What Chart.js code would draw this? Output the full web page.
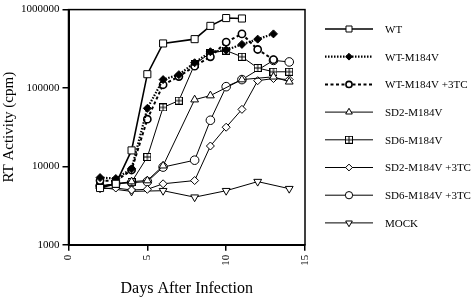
<!DOCTYPE html>
<html>
<head>
<meta charset="utf-8">
<script src="https://cdn.jsdelivr.net/npm/chart.js@4"></script>
<style>
  html, body { margin: 0; padding: 0; background: #fff; }
  #wrap { width: 476px; height: 300px; }
</style>
</head>
<body>
<div id="wrap"><canvas id="c" width="476" height="300"></canvas></div>
<script>
// days after infection
var days = [2, 3, 4, 5, 6, 7, 8, 9, 10, 11, 12, 13, 14];

// RT activity (cpm), null = no sample that day
var wt        = [5300, 6000, 16000, 150000, 370000, null, 420000, 620000, 780000, 770000, null, null, null];
var wtM184V   = [7200, 7000, 9300, 55000, 128000, 148000, 210000, 290000, 305000, 360000, 420000, 490000, null];
var wtM184V3  = [6600, 6500, 9000, 40000, 110000, 140000, 190000, 250000, 385000, 490000, 310000, 230000, null];
var sd2M184V  = [5600, 6000, 6400, 6600, 10200, null, 71000, 80000, null, 128000, null, 139000, 120000];
var sd6M184V  = [5600, 6000, 6300, 13200, 56600, 69000, 200000, 280000, 300000, 250000, 180000, 161000, 161000];
var sd2M184V3 = [5200, 5300, 5000, 5100, 6000, null, 6600, 18200, 31600, 53400, 124000, 132000, 128000];
var sd6M184V3 = [5600, 6000, 6200, 6400, 9800, null, 12000, 38800, 104000, 128000, null, 225000, 215000];
var mock      = [5400, null, 4800, null, 4900, null, 4050, null, 4900, null, 6400, null, 5200];

var seriesLabels = ['WT', 'WT-M184V', 'WT-M184V +3TC', 'SD2-M184V', 'SD6-M184V',
                    'SD2-M184V +3TC', 'SD6-M184V +3TC', 'MOCK'];

var yTicks = [1000, 10000, 100000, 1000000];
var xTicks = [0, 5, 10, 15];

// small square with a cross inside
function boxPlus(size) {
  var c = document.createElement('canvas');
  c.width = size; c.height = size;
  var g = c.getContext('2d');
  g.fillStyle = '#fff';
  g.fillRect(0.5, 0.5, size - 1, size - 1);
  g.strokeStyle = '#000';
  g.lineWidth = 1;
  g.strokeRect(0.5, 0.5, size - 1, size - 1);
  g.beginPath();
  g.moveTo(size / 2, 0.5); g.lineTo(size / 2, size - 0.5);
  g.moveTo(0.5, size / 2); g.lineTo(size - 0.5, size / 2);
  g.stroke();
  return c;
}

function pts(vals) {
  return days.map(function (d, i) { return { x: d, y: vals[i] }; });
}

function series(label, vals, style, o) {
  return Object.assign({
    label: label,
    data: pts(vals),
    borderColor: '#000',
    borderWidth: 1,
    pointStyle: style,
    pointRadius: 4,
    pointBackgroundColor: '#fff',
    pointBorderColor: '#000',
    pointBorderWidth: 1,
    spanGaps: true,
    tension: 0
  }, o || {});
}

var datasets = [
  series(seriesLabels[0], wt, 'rect', { borderWidth: 1.6, pointRadius: 5 }),
  series(seriesLabels[1], wtM184V, 'rectRot', { borderWidth: 2.2, borderDash: [1.5, 1.5], pointBackgroundColor: '#000', pointRadius: 4 }),
  series(seriesLabels[2], wtM184V3, 'circle', { borderWidth: 2, borderDash: [3, 2.5], pointRadius: 3.6, pointBorderWidth: 1.6 }),
  series(seriesLabels[3], sd2M184V, 'triangle', { pointRadius: 4.5 }),
  series(seriesLabels[4], sd6M184V, boxPlus(8)),
  series(seriesLabels[5], sd2M184V3, 'rectRot', { pointRadius: 4 }),
  series(seriesLabels[6], sd6M184V3, 'circle', { pointRadius: 4.3 }),
  series(seriesLabels[7], mock, 'triangle', { pointRotation: 180, pointRadius: 4.5 })
];

// box round the plot
var frame = {
  id: 'frame',
  afterDatasetsDraw: function (chart) {
    var a = chart.chartArea, ctx = chart.ctx;
    ctx.save();
    ctx.strokeStyle = '#000';
    ctx.lineWidth = 1.5;
    ctx.strokeRect(a.left, a.top, a.right - a.left, a.bottom - a.top);
    ctx.restore();
  }
};

// legend with line + marker like the figure
var sideLegend = {
  id: 'sideLegend',
  afterDraw: function (chart) {
    var ctx = chart.ctx;
    chart.data.datasets.forEach(function (ds, i) {
      var y = 29 + i * 27.7;
      ctx.save();
      ctx.strokeStyle = ds.borderColor;
      ctx.lineWidth = ds.borderWidth;
      ctx.setLineDash(ds.borderDash || []);
      ctx.beginPath();
      ctx.moveTo(325, y); ctx.lineTo(373, y);
      ctx.stroke();
      ctx.setLineDash([]);
      ctx.fillStyle = ds.pointBackgroundColor;
      ctx.strokeStyle = ds.pointBorderColor;
      ctx.lineWidth = ds.pointBorderWidth;
      Chart.helpers.drawPoint(ctx, {
        pointStyle: ds.pointStyle,
        rotation: ds.pointRotation || 0,
        radius: ds.pointRadius * 0.85,
        borderWidth: ds.pointBorderWidth
      }, 349, y);
      ctx.fillStyle = '#000';
      ctx.font = '11px "Liberation Serif"';
      ctx.textBaseline = 'middle';
      ctx.textAlign = 'left';
      ctx.fillText(ds.label, 385, y + 1);
      ctx.restore();
    });
  }
};

Chart.defaults.font.family = '"Liberation Serif", "Times New Roman", serif';
Chart.defaults.color = '#000';

new Chart(document.getElementById('c'), {
  type: 'line',
  data: { datasets: datasets },
  options: {
    responsive: false,
    animation: false,
    layout: { padding: { top: 5, right: 171, bottom: 2, left: 0 } },
    plugins: { legend: { display: false }, tooltip: { enabled: false } },
    scales: {
      x: {
        type: 'linear',
        min: 0, max: 15,
        afterBuildTicks: function (s) { s.ticks = xTicks.map(function (v) { return { value: v }; }); },
        ticks: { minRotation: 90, maxRotation: 90, padding: 4, font: { size: 11 } },
        grid: { display: true, drawOnChartArea: false, drawTicks: true, tickLength: 6, color: '#000', lineWidth: 1.5 },
        border: { display: true, color: '#000', width: 2 },
        title: { display: true, text: 'Days After Infection', font: { size: 16 }, padding: { top: 9, bottom: 0 } }
      },
      y: {
        type: 'logarithmic',
        min: 1000, max: 1000000,
        afterBuildTicks: function (s) { s.ticks = yTicks.map(function (v) { return { value: v }; }); },
        ticks: { padding: 3, font: { size: 11 }, callback: function (v) { return String(v); } },
        grid: { display: true, drawOnChartArea: false, drawTicks: true, tickLength: 6, color: '#000', lineWidth: 1.5 },
        border: { display: true, color: '#000', width: 2 },
        title: { display: true, text: 'RT Activity (cpm)', font: { size: 15 }, padding: { top: 0, bottom: 0 } }
      }
    }
  },
  plugins: [frame, sideLegend]
});
</script>
</body>
</html>
